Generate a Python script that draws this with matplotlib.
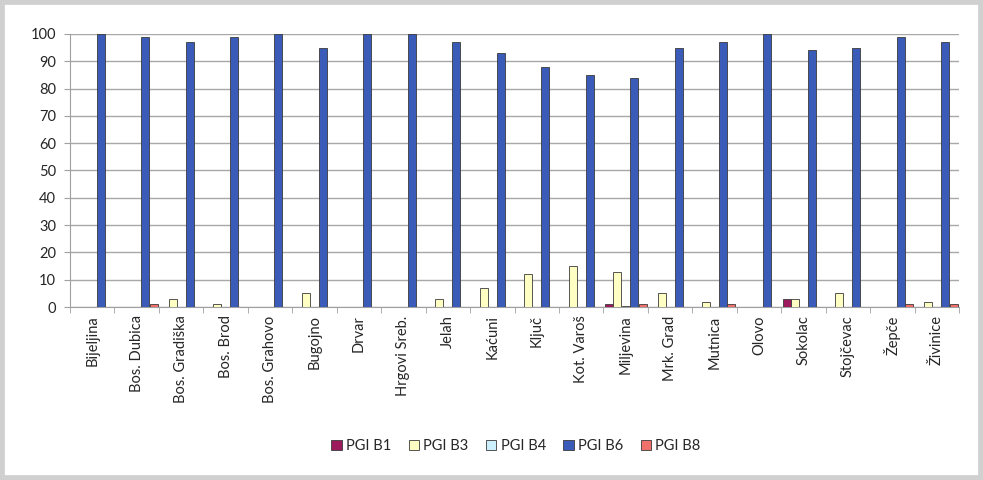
import matplotlib.pyplot as plt
import numpy as np
from matplotlib.patches import Rectangle

plt.rcParams['font.family'] = ['Lato', 'DejaVu Sans']
plt.rcParams['text.color'] = '#262626'
plt.rcParams['xtick.labelcolor'] = '#262626'
plt.rcParams['ytick.labelcolor'] = '#262626'

towns = ['Bijeljina', 'Bos. Dubica', 'Bos. Gradiška', 'Bos. Brod', 'Bos. Grahovo',
         'Bugojno', 'Drvar', 'Hrgovi Sreb.', 'Jelah', 'Kaćuni', 'Ključ', 'Kot. Varoš',
         'Miljevina', 'Mrk. Grad', 'Mutnica', 'Olovo', 'Sokolac', 'Stojčevac',
         'Žepče', 'Živinice']

b1 = [0, 0, 0, 0, 0, 0, 0, 0, 0, 0, 0, 0, 1, 0, 0, 0, 3, 0, 0, 0]
b3 = [0, 0, 3, 1, 0, 5, 0, 0, 3, 7, 12, 15, 13, 5, 2, 0, 3, 5, 0, 2]
b4 = [0, 0, 0, 0, 0, 0, 0, 0, 0, 0, 0, 0, 0.5, 0, 0, 0, 0, 0, 0, 0]
b6 = [100, 99, 97, 99, 100, 95, 100, 100, 97, 93, 88, 85, 84, 95, 97, 100, 94, 95, 99, 97]
b8 = [0, 1, 0, 0, 0, 0, 0, 0, 0, 0, 0, 0, 1, 0, 1, 0, 0, 0, 1, 1]

series = [('PGI B1', b1, '#9c1a5c'), ('PGI B3', b3, '#ffffc4'), ('PGI B4', b4, '#cdeffc'),
          ('PGI B6', b6, '#3a5cb8'), ('PGI B8', b8, '#f0706c')]

fig = plt.figure(figsize=(9.83, 4.80), dpi=100)
fig.patches.append(Rectangle((0, 0), 1, 1, transform=fig.transFigure,
                             fill=False, edgecolor='#d0d0d0', linewidth=7))
ax = fig.add_axes([0.0712, 0.3604, 0.9044, 0.5688])

x = np.arange(len(towns))
w = 0.19
for i, (name, vals, col) in enumerate(series):
    ax.bar(x + (i - 2) * w, vals, width=w * 0.95, color=col, edgecolor='#3a3a3a',
           linewidth=0.6, label=name, zorder=3)

ax.set_xlim(-0.5, len(towns) - 0.5)
ax.set_ylim(0, 100)
ax.set_yticks(range(0, 101, 10))
ax.yaxis.grid(True, color='#a8a8a8', linewidth=1, zorder=0)
ax.set_xticks(x)
ax.set_xticklabels(towns, rotation=90, fontsize=10.5)
ax.tick_params(axis='x', length=0, pad=6)
ax.set_xticks(np.arange(-0.5, len(towns), 1), minor=True)
ax.tick_params(axis='x', which='minor', length=4, color='#a0a0a0')
ax.tick_params(axis='y', length=4, color='#a0a0a0', labelsize=10.5, pad=6)
for s in ['top', 'right']:
    ax.spines[s].set_visible(False)
for s in ['left', 'bottom']:
    ax.spines[s].set_color('#a0a0a0')

fig.legend(loc='center', bbox_to_anchor=(0.525, 0.07), ncol=5, frameon=False,
           fontsize=10.5, handlelength=0.7, handleheight=0.7, handletextpad=0.3,
           columnspacing=1.2)

fig.savefig('out.png', dpi=100)
